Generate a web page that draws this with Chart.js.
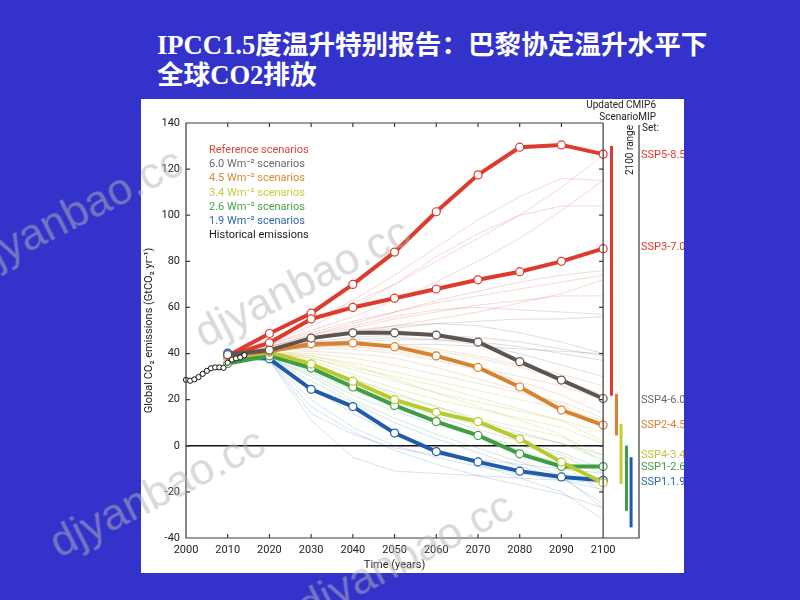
<!DOCTYPE html>
<html>
<head>
<meta charset="utf-8">
<script src="https://cdn.jsdelivr.net/npm/chart.js@4.4.1/dist/chart.umd.min.js"></script>
<style>
  html, body { margin: 0; padding: 0; }
  body { width: 800px; height: 600px; background: #3333cc; position: relative; overflow: hidden; }
  .title { position: absolute; left: 157px; top: 30px; color: #fff; font-weight: bold; font-size: 26.6px; line-height: 30px;
           font-family: "Liberation Serif", "Noto Sans CJK SC", serif; white-space: nowrap; }
  .panel { position: absolute; left: 141px; top: 99px; width: 543px; height: 474px; background: #fff; }
  .wm { position: absolute; font-family: "Liberation Sans", sans-serif; font-size: 44px; color: rgba(180,180,180,0.5);
        transform: translate(-50%, -50%) rotate(-27deg); white-space: nowrap; pointer-events: none; }
</style>
</head>
<body>
<div class="title">IPCC1.5度温升特别报告：巴黎协定温升水平下<br>全球CO2排放</div>
<div class="panel"><canvas id="co2" width="543" height="474"></canvas></div>
<div class="wm" style="left:75px;top:212px;">djyanbao.cc</div>
<div class="wm" style="left:302px;top:282px;">djyanbao.cc</div>
<div class="wm" style="left:157px;top:492px;">djyanbao.cc</div>
<div class="wm" style="left:405px;top:556px;">djyanbao.cc</div>
<script>
// years and values (GtCO2 per year)
const decades = [2010, 2020, 2030, 2040, 2050, 2060, 2070, 2080, 2090, 2100];
const ssp585 = [39, 48.7, 57.5, 70, 84, 101.5, 117.5, 129.5, 130.5, 126.5];
const ssp370 = [39, 44.6, 55, 60, 64, 68, 72, 75.5, 80, 85.5];
const ssp460 = [39.5, 41.5, 46.7, 49, 49, 48, 45, 36.5, 28.5, 20.5];
const ssp245 = [39, 41, 44.2, 44.6, 43, 39, 34, 25.5, 15.5, 9];
const ssp434 = [38, 40.6, 35.5, 28, 20, 14.5, 10.5, 3, -7, -16];
const ssp126 = [35.7, 39, 33.7, 25.5, 17.5, 10.5, 4.5, -3.5, -9, -9];
const ssp119 = [40.2, 37.7, 24.5, 17, 5.5, -2.5, -7, -11, -13.5, -15];

const histYears = [2000, 2001, 2002, 2003, 2004, 2005, 2006, 2007, 2008, 2009, 2010, 2011, 2012, 2013, 2014];
const histCO2 = [28.6, 28.2, 28.8, 29.8, 31.2, 32.5, 33.6, 34.0, 34.0, 33.8, 36.0, 37.4, 37.9, 38.3, 39.3];

// faint scenario ensembles
const refThin = [
  [39, 46, 54, 62, 70, 80, 90, 100, 112, 126],
  [39, 46, 54, 63, 74, 86, 98, 108, 116, 115],
  [39, 45, 52, 60, 70, 82, 92, 100, 104, 104],
  [39, 44, 50, 56, 63, 71, 80, 90, 102, 115],
  [39, 43, 48, 53, 58, 63, 67, 71, 74, 76],
  [39, 43, 47, 51, 55, 58, 61, 63, 65, 65],
  [38, 42, 46, 49, 52, 55, 58, 62, 66, 72],
  [39, 44, 49, 54, 58, 62, 65, 68, 71, 74],
  [38, 43, 48, 52, 56, 59, 60, 59, 58, 57]
];
const w60Thin = [
  [38, 42, 46, 49, 51, 53, 54, 55, 55, 56],
  [38, 42, 45, 47, 48, 48, 47, 45, 42, 39],
  [38, 41, 44, 46, 47, 46, 44, 40, 35, 30],
  [38, 42, 46, 50, 52, 53, 52, 49, 45, 40],
  [38, 41, 43, 45, 46, 46, 45, 43, 40, 37],
  [38, 41, 43, 44, 44, 44, 43, 42, 41, 40]
];
const w45Thin = [
  [38, 41, 43, 44, 43, 41, 38, 34, 29, 22],
  [38, 41, 42, 42, 40, 37, 33, 28, 22, 14],
  [38, 40, 41, 40, 38, 34, 29, 24, 18, 8],
  [38, 41, 43, 43, 41, 38, 34, 30, 26, 20],
  [38, 40, 40, 38, 35, 31, 27, 23, 19, 12],
  [38, 41, 43, 44, 44, 42, 39, 35, 31, 26]
];
const w34Thin = [
  [38, 40, 38, 33, 28, 23, 19, 15, 11, 6],
  [38, 40, 37, 31, 25, 20, 16, 12, 8, 1],
  [38, 40, 39, 36, 32, 28, 24, 20, 16, 11],
  [38, 39, 35, 29, 22, 17, 12, 8, 4, -4],
  [38, 40, 38, 34, 30, 26, 21, 16, 11, 2],
  [38, 40, 39, 35, 29, 23, 17, 11, 5, -8]
];
const w26Thin = [
  [38, 39, 34, 27, 20, 14, 9, 5, 1, -4],
  [38, 38, 31, 22, 15, 9, 4, 0, -4, -12],
  [38, 39, 32, 24, 17, 10, 4, -2, -8, -20],
  [38, 39, 35, 29, 23, 17, 11, 6, 1, -6],
  [38, 38, 30, 20, 12, 5, -1, -7, -13, -27],
  [38, 39, 33, 26, 19, 13, 7, 2, -3, -10]
];
const w19Thin = [
  [38, 37, 20, 8, 0, -5, -9, -12, -15, -19],
  [38, 37, 11, -5, -11, -12, -13, -14, -15, -16],
  [38, 38, 25, 14, 5, -2, -8, -14, -20, -32],
  [38, 37, 17, 6, -2, -8, -13, -17, -21, -27],
  [38, 38, 28, 19, 10, 3, -3, -9, -14, -25],
  [38, 37, 14, 5, -1, -4, -6, -8, -10, -12]
];

// 2100 ranges of the updated CMIP6 set
const rangeX = [2102.0, 2103.2, 2104.3, 2105.6, 2106.7];
const rangeLow = [21.7, 4.5, -16.5, -28.2, -35.4];
const rangeHigh = [130, 22.5, 9.4, 0.1, -5];

const sspNames = ['SSP5-8.5', 'SSP3-7.0', 'SSP4-6.0', 'SSP2-4.5', 'SSP4-3.4', 'SSP1-2.6', 'SSP1.1.9'];
const sspLabelAt = [126, 86.2, 19.9, 9.1, -3.9, -9.5, -16];

const legendNames = ['Reference scenarios', '6.0 Wm\u207B\u00B2 scenarios', '4.5 Wm\u207B\u00B2 scenarios',
  '3.4 Wm\u207B\u00B2 scenarios', '2.6 Wm\u207B\u00B2 scenarios', '1.9 Wm\u207B\u00B2 scenarios', 'Historical emissions'];

const RED = '#dd3b2d', GRAY = '#5e5550', ORANGE = '#d8812f', YELLOW = '#b9c92e', GREEN = '#3f9d45', BLUE = '#1e5ba8';
const legendColors = ['#e0463a', '#6e6863', '#d98a35', '#c4cd3c', '#4aa24c', '#2f66b0', '#1a1a1a'];
const sspColors = [RED, RED, '#6e6863', ORANGE, '#bcc83a', GREEN, '#2f66b0'];
const rangeColors = [RED, ORANGE, '#c3cd33', GREEN, BLUE];

const toXY = (xs, ys) => ys.map((v, i) => ({ x: xs[i], y: v }));
const datasets = [];

function addThin(group, color) {
  group.forEach(vals => datasets.push({
    data: toXY(decades, vals), borderColor: color, borderWidth: 1,
    pointRadius: 0, order: 4
  }));
}
addThin(refThin, 'rgba(221,59,45,0.2)');
addThin(w60Thin, 'rgba(94,85,80,0.2)');
addThin(w45Thin, 'rgba(216,129,47,0.22)');
addThin(w34Thin, 'rgba(185,201,46,0.28)');
addThin(w26Thin, 'rgba(63,157,69,0.22)');
addThin(w19Thin, 'rgba(30,91,168,0.18)');

function addMain(vals, color) {
  datasets.push({
    data: toXY(decades, vals), borderColor: color, borderWidth: 4,
    pointRadius: 4, pointBackgroundColor: '#fff', pointBorderColor: color, pointBorderWidth: 1.2,
    order: 1
  });
}
addMain(ssp460, GRAY);
addMain(ssp245, ORANGE);
addMain(ssp434, YELLOW);
addMain(ssp126, GREEN);
addMain(ssp119, BLUE);
addMain(ssp370, RED);
addMain(ssp585, RED);

datasets.push({
  data: toXY(histYears, histCO2), showLine: false, pointRadius: 2.6,
  pointBackgroundColor: '#fff', pointBorderColor: '#111', pointBorderWidth: 1, order: 0
});

rangeX.forEach((x, i) => datasets.push({
  data: [{ x: x, y: rangeLow[i] }, { x: x, y: rangeHigh[i] }],
  borderColor: rangeColors[i], borderWidth: 3, borderCapStyle: 'butt', pointRadius: 0, order: 2
}));

const FONT = 'Roboto, "Liberation Sans", sans-serif';

const frame = {
  id: 'frame',
  beforeDatasetsDraw(chart) {
    const { ctx, chartArea: a, scales: { x, y } } = chart;
    const y0 = y.getPixelForValue(0);
    ctx.save();
    ctx.strokeStyle = '#111';
    ctx.lineWidth = 1.4;
    ctx.beginPath();
    ctx.moveTo(a.left, y0);
    ctx.lineTo(x.getPixelForValue(2100), y0);
    ctx.stroke();
    ctx.restore();
  },
  afterDatasetsDraw(chart) {
    const { ctx, chartArea: a, scales: { x, y } } = chart;
    const xe = x.getPixelForValue(2100);
    ctx.save();
    ctx.strokeStyle = '#3a3a3a';
    ctx.lineWidth = 1.2;
    ctx.beginPath();
    ctx.moveTo(xe, a.top); ctx.lineTo(a.left, a.top); ctx.lineTo(a.left, a.bottom);
    ctx.lineTo(a.right, a.bottom); ctx.lineTo(a.right, a.top + 2);
    ctx.moveTo(xe, a.top); ctx.lineTo(xe, a.bottom);
    // inward tick marks
    x.ticks.forEach(t => {
      const px = x.getPixelForValue(t.value);
      ctx.moveTo(px, a.bottom); ctx.lineTo(px, a.bottom - 4);
      ctx.moveTo(px, a.top); ctx.lineTo(px, a.top + 4);
    });
    y.ticks.forEach(t => {
      const py = y.getPixelForValue(t.value);
      ctx.moveTo(a.left, py); ctx.lineTo(a.left + 4, py);
      ctx.moveTo(xe, py); ctx.lineTo(xe - 4, py);
    });
    ctx.stroke();

    // legend text
    ctx.font = '11px ' + FONT;
    ctx.textBaseline = 'middle';
    ctx.textAlign = 'left';
    legendNames.forEach((n, i) => {
      ctx.fillStyle = legendColors[i];
      ctx.fillText(n, a.left + 23, a.top + 27.5 + i * 14.1);
    });

    // scenario labels at right
    sspNames.forEach((n, i) => {
      ctx.fillStyle = sspColors[i];
      ctx.fillText(n, a.right + 2, y.getPixelForValue(sspLabelAt[i]));
    });

    ctx.fillStyle = '#222';
    ctx.font = '10px ' + FONT;
    ctx.textAlign = 'right';
    ctx.fillText('Updated CMIP6', a.right + 17, 6.5);
    ctx.fillText('ScenarioMIP', a.right + 17, 18);
    ctx.textAlign = 'left';
    ctx.fillText('Set:', a.right + 3, 29);

    ctx.save();
    ctx.translate(a.right - 8.5, 51);
    ctx.rotate(-Math.PI / 2);
    ctx.textAlign = 'center';
    ctx.fillText('2100 range', 0, 0);
    ctx.restore();

    ctx.font = '11px ' + FONT;
    ctx.textAlign = 'center';
    ctx.fillText('Time (years)', (x.getPixelForValue(2000) + xe) / 2, 466);
    ctx.restore();
  }
};

new Chart(document.getElementById('co2').getContext('2d'), {
  type: 'line',
  data: { datasets: datasets },
  options: {
    responsive: false,
    animation: false,
    clip: false,
    layout: { padding: { left: 0, right: 45, top: 24, bottom: 0 } },
    plugins: { legend: { display: false }, tooltip: { enabled: false } },
    elements: { line: { tension: 0 } },
    scales: {
      x: {
        type: 'linear', min: 2000, max: 2108.6,
        afterBuildTicks: s => { s.ticks = [2000, 2010, 2020, 2030, 2040, 2050, 2060, 2070, 2080, 2090, 2100].map(v => ({ value: v })); },
        afterFit: s => { s.height = 35; },
        grid: { display: false, drawTicks: false },
        border: { display: false },
        ticks: { color: '#222', font: { family: FONT, size: 11 }, padding: 6, maxRotation: 0, autoSkip: false,
                 callback: v => String(v) }
      },
      y: {
        min: -40, max: 140,
        afterFit: s => { s.width = 45; },
        grid: { display: false, drawTicks: false },
        border: { display: false },
        ticks: { stepSize: 20, color: '#222', font: { family: FONT, size: 11 }, padding: 6 },
        title: { display: true, text: 'Global CO\u2082 emissions (GtCO\u2082 yr\u207B\u00B9)', color: '#222',
                 font: { family: FONT, size: 11 }, padding: { top: 2, bottom: 0 } }
      }
    }
  },
  plugins: [frame]
});
</script>
</body>
</html>
